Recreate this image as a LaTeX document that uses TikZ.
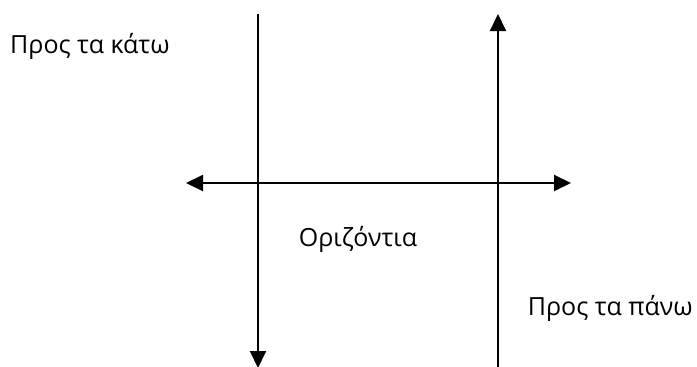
\documentclass[tikz,border=0pt]{standalone}
\usepackage{fontspec}
\setmainfont{Open Sans}
\usetikzlibrary{arrows.meta}
\begin{document}
\begin{tikzpicture}[x=1pt,y=-1pt,
  ln/.style={line width=2pt,draw=black},
  hd/.tip={Triangle[length=17pt,width=16pt]},
  lbl/.style={font=\fontsize{25}{30}\selectfont,inner sep=0pt}]
\useasboundingbox (0,0) rectangle (697,367);
\coordinate (ltop) at (258,14);
\coordinate (lbot) at (258,368);
\coordinate (rtop) at (498,14);
\coordinate (rbot) at (498,367);
\coordinate (hl) at (186,183);
\coordinate (hr) at (571,183);
\draw[ln,-hd] (ltop) -- (lbot);
\draw[ln,-hd] (rbot) -- (rtop);
\draw[ln,hd-hd] (hl) -- (hr);
\node[lbl,anchor=base west] (down) at (10,53) {Προς τα κάτω};
\node[lbl,anchor=base] (horiz) at (358,246) {Οριζόντια};
\node[lbl,anchor=base east] (up) at (693,315) {Προς τα πάνω};
\end{tikzpicture}
\end{document}
